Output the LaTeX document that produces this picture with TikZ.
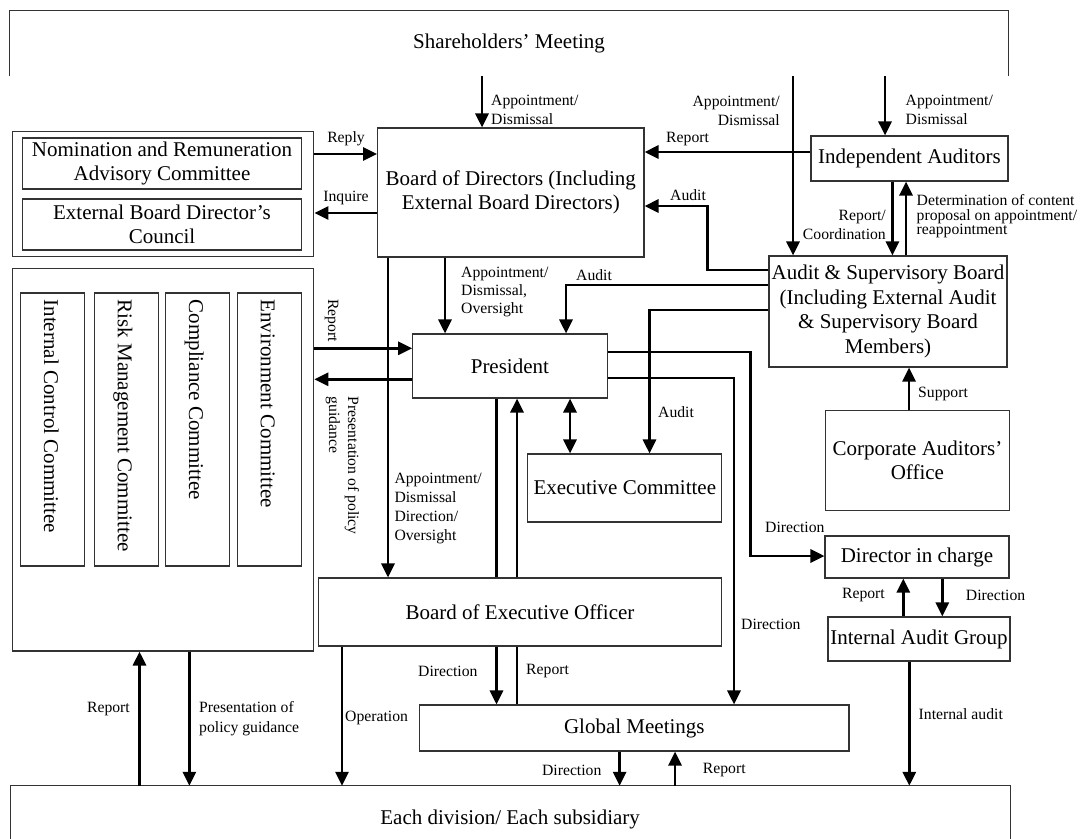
\documentclass[tikz,border=0pt]{standalone}
\usepackage{fontspec}
\setmainfont{Liberation Serif}
\usetikzlibrary{arrows.meta,calc}
\begin{document}
\begin{tikzpicture}[x=1pt,y=-1pt,
  frame/.style={draw=black!80, line width=1.1pt},
  box/.style={draw=black!80, line width=1.1pt, inner sep=0pt, align=center, font=\fontsize{21}{24.5}\selectfont},
  bare/.style={inner sep=0pt, align=center, font=\fontsize{21}{24.5}\selectfont},
  vtext/.style={inner sep=0pt, rotate=-90, anchor=west, text height=15pt, text depth=4pt, font=\fontsize{21}{24.5}\selectfont},
  arr/.style={line width=2.8pt, -{Triangle[length=14pt,width=13pt]}},
  dbl/.style={line width=2.8pt, {Triangle[length=14pt,width=13pt]}-{Triangle[length=14pt,width=13pt]}},
  ln/.style={line width=2.8pt},
  lab/.style={inner sep=0pt, font=\fontsize{15.7}{19}\selectfont},
]
\useasboundingbox (0,0) rectangle (1083,838);
\fill[white] (0,0) rectangle (1083,838);

% ---------- boxes ----------
\node[bare, minimum width=998pt, minimum height=65pt] (sh) at (509,43.5) {Shareholders' Meeting};
\draw[frame] (sh.south west) -- (sh.north west) -- (sh.north east) -- (sh.south east);

\node[box, minimum width=266.4pt, minimum height=129pt] (bod) at (510.8,192.5) {Board of Directors (Including\\External Board Directors)};
\node[box, minimum width=301pt, minimum height=125.2pt] (nomout) at (163.3,194.3) {};
\node[box, minimum width=279.3pt, minimum height=51pt] (nom1) at (162,163.5) {Nomination and Remuneration\\Advisory Committee};
\node[box, minimum width=279.3pt, minimum height=51pt] (nom2) at (162,224.5) {External Board Director's\\Council};
\node[box, minimum width=197pt, minimum height=45pt] (ia) at (909.5,158.5) {Independent Auditors};
\node[box, minimum width=238pt, minimum height=111pt] (asb) at (888,311.5) {Audit \& Supervisory Board\\(Including External Audit\\\& Supervisory Board\\Members)};
\node[box, minimum width=183.3pt, minimum height=99.5pt] (cao) at (917.4,460.3) {Corporate Auditors'\\Office};
\node[box, minimum width=184pt, minimum height=42pt] (dic) at (917,557) {Director in charge};
\node[box, minimum width=182pt, minimum height=44pt] (iag) at (919,639) {Internal Audit Group};

\node[box, minimum width=301pt, minimum height=382.4pt] (comout) at (163.3,459.8) {};
\node[box, minimum width=63.8pt, minimum height=273pt] (c1) at (52.6,429.5) {};
\node[box, minimum width=64.2pt, minimum height=273pt] (c2) at (126.4,429.5) {};
\node[box, minimum width=63.7pt, minimum height=273pt] (c3) at (197.65,429.5) {};
\node[box, minimum width=63.9pt, minimum height=273pt] (c4) at (269.35,429.5) {};
\node[vtext] (c1t) at ($(c1.north)+(-3,7)$) {Internal Control Committee};
\node[vtext] (c2t) at ($(c2.north)+(-3,7)$) {Risk Management Committee};
\node[vtext] (c3t) at ($(c3.north)+(-3,7)$) {Compliance Committee};
\node[vtext] (c4t) at ($(c4.north)+(-3,7)$) {Environment Committee};

\node[box, minimum width=194.3pt, minimum height=64pt] (pres) at (509.9,366) {President};
\node[box, minimum width=194.1pt, minimum height=68pt] (exc) at (624.8,488) {Executive Committee};
\node[box, minimum width=402.8pt, minimum height=68pt] (boeo) at (520,612) {Board of Executive Officer};
\node[box, minimum width=429.4pt, minimum height=46pt] (gm) at (634.3,728) {Global Meetings};
\node[bare, minimum width=999.7pt, minimum height=66pt] (ed) at (510.15,819) {Each division/ Each subsidiary};
\draw[frame] ($(ed.north west)+(0,60)$) -- (ed.north west) -- (ed.north east) -- ($(ed.north east)+(0,60)$);

% ---------- connectors ----------
\draw[arr] (482,0 |- sh.south) -- (482,0 |- bod.north);
\draw[arr] (793,0 |- sh.south) -- (793,0 |- asb.north);
\draw[arr] (885,0 |- sh.south) -- (885,0 |- ia.north);
\draw[arr] (nomout.east |- 0,154) -- (bod.west |- 0,154);
\draw[arr] (bod.west |- 0,213) -- (nomout.east |- 0,213);
\draw[arr] (ia.west |- 0,152) -- (bod.east |- 0,152);
\draw[arr] (asb.west |- 0,270) -| (707.5,206) -- (bod.east |- 0,206);
\draw[arr] (892.4,0 |- ia.south) -- (892.4,0 |- asb.north);
\draw[arr] (906,0 |- asb.north) -- (906,0 |- ia.south);
\draw[arr] (909,0 |- cao.north) -- (909,0 |- asb.south);
\draw[arr] (445,0 |- bod.south) -- (445,0 |- pres.north);
\draw[arr] (388,0 |- bod.south) -- (388,0 |- boeo.north);
\draw[arr] (asb.west |- 0,285) -| (566,0 |- pres.north);
\draw[arr] (asb.west |- 0,310) -| (649.5,0 |- exc.north);
\draw[arr] (comout.east |- 0,348.3) -- (pres.west |- 0,348.3);
\draw[arr] (pres.west |- 0,379.3) -- (comout.east |- 0,379.3);
\draw[dbl] (570,0 |- pres.south) -- (570,0 |- exc.north);
\draw[arr] (pres.east |- 0,352) -| (750.5,556) -- (dic.west |- 0,556);
\draw[arr] (pres.east |- 0,378) -| (734,0 |- gm.north);
\draw[ln] (496.5,0 |- pres.south) -- (496.5,0 |- boeo.north);
\draw[arr] (496.5,0 |- boeo.south) -- (496.5,0 |- gm.north);
\draw[ln] (517,0 |- gm.north) -- (517,0 |- boeo.south);
\draw[arr] (517,0 |- boeo.north) -- (517,0 |- pres.south);
\draw[arr] (342,0 |- boeo.south) -- (342,0 |- ed.north);
\draw[arr] (619.6,0 |- gm.south) -- (619.6,0 |- ed.north);
\draw[arr] (675,0 |- ed.north) -- (675,0 |- gm.south);
\draw[arr] (139.5,0 |- ed.north) -- (139.5,0 |- comout.south);
\draw[arr] (189.4,0 |- comout.south) -- (189.4,0 |- ed.north);
\draw[arr] (942.3,0 |- dic.south) -- (942.3,0 |- iag.north);
\draw[arr] (903.3,0 |- iag.north) -- (903.3,0 |- dic.south);
\draw[arr] (909.3,0 |- iag.south) -- (909.3,0 |- ed.north);

% ---------- labels ----------
\node[lab, anchor=west, align=left] (t1) at (491,110) {Appointment/\\Dismissal};
\node[lab, anchor=east, align=right] (t2) at (780,110.5) {Appointment/\\Dismissal};
\node[lab, anchor=west, align=left] (t3) at (905.5,110) {Appointment/\\Dismissal};
\node[lab] (t4) at (346,139) {Reply};
\node[lab] (t5) at (346,198) {Inquire};
\node[lab, anchor=west] (t6) at (666,139) {Report};
\node[lab, anchor=west] (t7) at (670,195) {Audit};
\node[lab, anchor=east, align=right] (t8) at (886,225) {Report/\\Coordination};
\node[lab, anchor=west, align=left, font=\fontsize{15.7}{14.5}\selectfont] (t9) at (916.5,216.5) {Determination of content\\proposal on appointment/\\reappointment};
\node[lab, anchor=west, align=left, font=\fontsize{15.7}{18}\selectfont] (t10) at (461,292) {Appointment/\\Dismissal,\\Oversight};
\node[lab, anchor=west] (t11) at (576,275.5) {Audit};
\node[lab, anchor=west] (t12) at (658,412) {Audit};
\node[lab, anchor=west, rotate=-90] (t13) at (331.7,299) {Report};
\node[lab, anchor=west, rotate=-90, align=left] (t14) at (342.5,396.7) {Presentation of policy\\guidance};
\node[lab, anchor=west, align=left] (t15) at (394.3,508) {Appointment/\\Dismissal\\Direction/\\Oversight};
\node[lab, anchor=west] (t16) at (918,394) {Support};
\node[lab, anchor=west] (t17) at (765,527) {Direction};
\node[lab, anchor=west] (t18) at (741,624) {Direction};
\node[lab, anchor=east] (t19) at (885,595) {Report};
\node[lab, anchor=west] (t20) at (965.7,595) {Direction};
\node[lab, anchor=west] (t21) at (918.5,714) {Internal audit};
\node[lab, anchor=west] (t22) at (418,671) {Direction};
\node[lab, anchor=west] (t23) at (526,671) {Report};
\node[lab, anchor=west] (t24) at (345,718) {Operation};
\node[lab, anchor=east] (t25) at (601.6,770) {Direction};
\node[lab, anchor=west] (t26) at (702.7,770) {Report};
\node[lab, anchor=east] (t27) at (130,709) {Report};
\node[lab, anchor=west, align=left, font=\fontsize{15.7}{20}\selectfont] (t28) at (199,718.7) {Presentation of\\policy guidance};
\end{tikzpicture}
\end{document}
